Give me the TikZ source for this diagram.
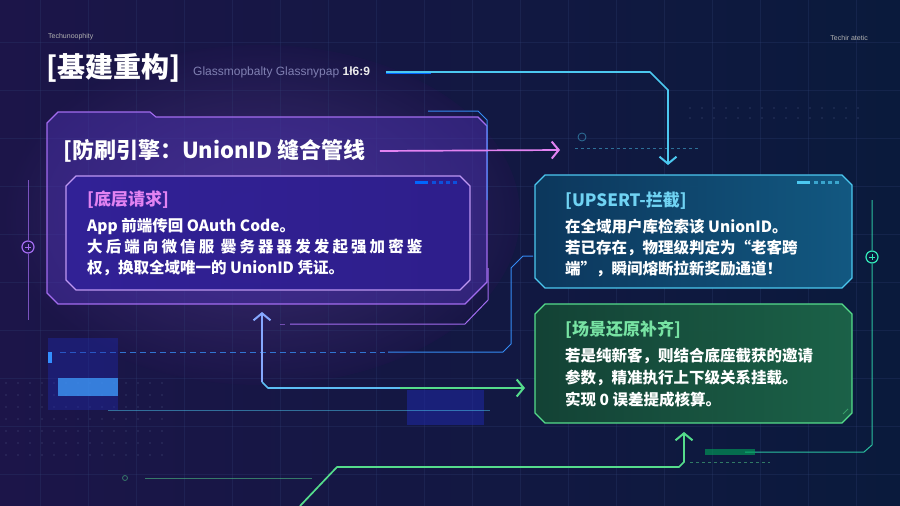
\documentclass[tikz,border=0pt]{standalone}
\usepackage{fontspec}
\setmainfont{Noto Sans CJK SC}
\newfontfamily\latinsans{Liberation Sans}
\usetikzlibrary{arrows.meta}
\definecolor{bgL}{HTML}{1C1549}
\definecolor{bgR}{HTML}{0A1A3C}
\definecolor{gridc}{HTML}{33457A}
\definecolor{violet}{HTML}{A36CF0}
\definecolor{pinkv}{HTML}{E283F2}
\definecolor{cyanl}{HTML}{4CC8F0}
\definecolor{greenl}{HTML}{55DC8C}
\definecolor{bluel}{HTML}{86A8FF}
\definecolor{tealL}{HTML}{0E3C64}
\definecolor{tealR}{HTML}{14608C}
\definecolor{moss L}{HTML}{15483A}
\definecolor{mossR}{HTML}{1E6A4E}
% chamfered outline round a named box node
\newcommand\chbox[2]{%
  \filldraw[line width=1.1pt, #2]
    ([xshift=10pt]#1.north west) -- ([xshift=-10pt]#1.north east) -- ([yshift=-10pt]#1.north east)
    -- ([yshift=10pt]#1.south east) -- ([xshift=-10pt]#1.south east) -- ([xshift=10pt]#1.south west)
    -- ([yshift=10pt]#1.south west) -- ([yshift=-10pt]#1.north west) -- cycle;}

\begin{document}
\begin{tikzpicture}[x=1pt, y=-1pt,
    box/.style={rectangle, inner sep=0pt, outer sep=0pt},
    head/.style={font=\bfseries\fontsize{17}{20}\selectfont, anchor=west, inner sep=0pt},
    body/.style={text=white, font=\bfseries\fontsize{15.5}{20}\selectfont, anchor=west, inner sep=0pt},
    link/.style={line width=1.7pt, line join=round, -{Straight Barb[length=7pt,width=17pt,line width=2pt]}},
    deco/.style={line width=0.8pt, opacity=0.5}]
    % background and grid
    \shade[left color=bgL, right color=bgR] (0,0) rectangle (900,506);
    \useasboundingbox (0,0) rectangle (900,506);
    \shade[inner color=violet!45!bgL, outer color=bgL, opacity=0.6] (260,215) ellipse (260 and 170);
    \foreach \x in {40,88,...,900} \draw[gridc, opacity=0.25, line width=0.4pt] (\x,0) -- (\x,506);
    \foreach \y in {42,90,...,506} \draw[gridc, opacity=0.25, line width=0.4pt] (0,\y) -- (900,\y);
    \foreach \i in {0,...,13} \foreach \j in {0,...,6}
        \fill[gridc!80!white, opacity=0.35] (6+\i*12,383+\j*12) circle (0.8);
    \foreach \i in {0,...,14} \foreach \j in {0,1}
        \fill[gridc!80!white, opacity=0.35] (690+\i*12,108+\j*10) circle (0.8);
    % header
    \node[anchor=west, inner sep=0pt, text=gray!60!white, font=\latinsans\fontsize{7}{8}\selectfont] (N) at (48,37) {Techunoophity};
    \node[anchor=east, inner sep=0pt, text=gray!60!white, font=\latinsans\fontsize{7}{8}\selectfont] (M) at (868,38) {Techir atetic};
    \node[anchor=west, inner sep=0pt, text=white, font=\bfseries\fontsize{28}{30}\selectfont] (T) at (46,68) {[基建重构]};
    \node[anchor=west, inner sep=0pt, text=gray!75!blue!80!white, font=\latinsans\fontsize{12}{13}\selectfont] (G) at (193,72)
        {Glassmopbalty Glassnypap {\bfseries\color{white!85!gray}1ł6:9}};
    % left panel
    \filldraw[violet, line width=1.1pt, fill=violet!65!blue!70!black, fill opacity=0.5]
        (58,112) -- (150,112) -- (156,117) -- (478,117) -- (487,126) -- (487,282) -- (465,304)
        -- (58,304) -- (47,293) -- (47,123) -- cycle;
    \draw[cyanl!70!blue, line width=1pt] (428,111) -- (478,111) -- (487,120) -- (487,200);
    \draw[violet, line width=1pt] (290,324) -- (465,324) -- (488,300) -- (488,268);
    \draw[violet, line width=1pt, opacity=0.6] (280,324) -- (285,324);
    \node[anchor=west, inner sep=0pt, text=white, font=\bfseries\fontsize{22}{24}\selectfont] (P) at (63,151)
        {[防刷引擎：UnionID 缝合管线};
    \node[box, minimum width=404pt, minimum height=114pt] (A) at (268,233) {};
    \chbox{A}{draw=violet!70!white, left color=violet!50!blue!70!black, right color=blue!50!violet!65!black, fill opacity=0.85}
    \fill[blue!60!cyan] (415,181) rectangle (428,184);
    \foreach \k in {0,1,2,3} \fill[blue!60!cyan, opacity=0.7] (432+\k*7,181) rectangle (436+\k*7,184);
    \node[head, text=pinkv] (A1) at (87,200) {[底层请求]};
    \node[body] (A2) at (87,226) {App 前端传回 OAuth Code。};
    \node[body] (A3) at (87,247) {\addfontfeature{LetterSpace=20}大后端向微信服 爨务器器发发起强加密鉴};
    \node[body] (A4) at (87,268) {权，换取全域唯一的 UnionID 凭证。};
    % right boxes
    \node[box, minimum width=317pt, minimum height=113pt] (U) at (693.5,231.5) {};
    \chbox{U}{draw=cyanl, left color=tealL, right color=tealR, fill opacity=0.92}
    \fill[cyanl] (797,181) rectangle (810,184);
    \foreach \k in {0,1,2,3} \fill[cyanl, opacity=0.7] (814+\k*7,181) rectangle (818+\k*7,184);
    \node[head, text=cyanl!80!white] (U1) at (565,201) {[UPSERT-拦截]};
    \node[body] (U2) at (565,227) {在全域用户库检索该 UnionID。};
    \node[body] (U3) at (565,248) {若已存在，物理级判定为“老客跨};
    \node[body] (U4) at (565,269) {端”，瞬间熔断拉新奖励通道！};
    \node[box, minimum width=317pt, minimum height=119pt] (S) at (693.5,363.5) {};
    \chbox{S}{draw=greenl, left color=moss L, right color=mossR, fill opacity=0.92}
    \draw[greenl, opacity=0.5, line width=1pt] (843,414) -- (848,409);
    \node[head, text=greenl!80!white] (S1) at (565,330) {[场景还原补齐]};
    \node[body] (S2) at (565,356) {若是纯新客，则结合底座截获的邀请};
    \node[body] (S3) at (565,378) {参数，精准执行上下级关系挂载。};
    \node[body] (S4) at (565,400) {实现 0 误差提成核算。};
    % frame lines
    \draw[cyanl!70!blue, line width=1pt, dash pattern=on 6pt off 4pt, opacity=0.8] (60,352) -- (385,352);
    \draw[cyanl!70!blue, line width=1pt] (388,352) -- (503,352) -- (511,344) -- (511,268) -- (523,256) -- (533,256);
    \draw[greenl!60!cyan, line width=1pt, opacity=0.8] (872,200) -- (872,250) (872,264) -- (872,445) -- (864,452) -- (745,452);
    \draw[greenl!60!cyan, line width=1.2pt] (872,257) circle (6);
    \draw[greenl!60!cyan, line width=1pt] (869,257) -- (875,257) (872,254) -- (872,260);
    \draw[violet, line width=0.8pt, opacity=0.7] (28,180) -- (28,240) (28,254) -- (28,320);
    \draw[violet, line width=1.2pt] (28,247) circle (6);
    \draw[violet, line width=1pt] (25,247) -- (31,247) (28,244) -- (28,250);
    % decorations
    \fill[blue!40!gridc, opacity=0.4] (48,338) rectangle (118,410);
    \fill[blue!50!cyan!75!white, opacity=0.75] (58,378) rectangle (118,396);
    \fill[blue!55!cyan!80!white] (48,352) rectangle (52,363);
    \fill[blue!40!gridc, opacity=0.5] (407,390) rectangle (484,425);
    \draw[deco, cyanl] (108,410) -- (490,410);
    \draw[deco, greenl] (145,478) -- (312,478);
    \draw[deco, greenl] (125,478) circle (2.5);
    \draw[deco, cyanl, dashed] (575,148) -- (700,148);
    \draw[deco, cyanl] (582,137) circle (4);
    \draw[deco, greenl, dashed] (690,462) -- (770,462);
    \fill[teal!70!green, opacity=0.6] (705,449) rectangle (755,455);
    % connectors
    \coordinate (C2) at (668,165);
    \coordinate (C3) at (560,150);
    \coordinate (C4) at (262,312);
    \coordinate (C5) at (525,388);
    \coordinate (C6) at (684,432);
    \coordinate (C7) at (300,506);
    \draw[blue!60!cyan, line width=3pt] ([xshift=16pt]G.east) -- +(45,0);
    \draw[link, cyanl] ([xshift=16pt]G.east) -- (650,72) -- (668,90) -- (C2);
    \draw[link, pinkv] ([xshift=14pt]P.east) -- (C3);
    \draw[link, bluel] (262,382) -- (C4);
    \draw[line width=1.7pt, line join=round, cyanl!70!bluel] (262,382) -- (268,388) -- (400,388);
    \draw[link, greenl] (400,388) -- (C5);
    \draw[link, greenl] (C7) -- (337,467) -- (679,467) -- (684,462) -- (C6);
\end{tikzpicture}
\end{document}
